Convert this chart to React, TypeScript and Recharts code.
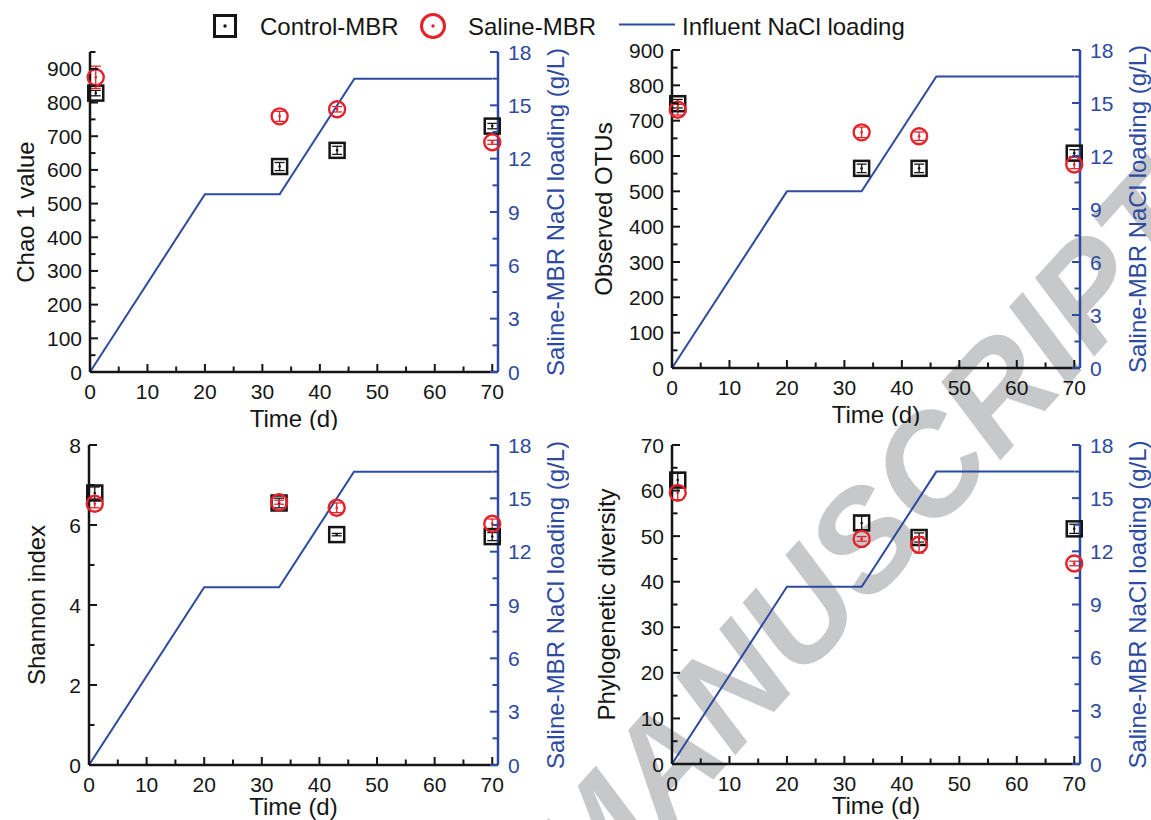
import React from "react";
import { ComposedChart, Line, Scatter, XAxis, YAxis, ErrorBar } from "recharts";

// sampling days for the sequencing results
const days = [1, 33, 43, 70];

// influent NaCl loading of the saline MBR (g/L)
const naclDays = [0, 20, 33, 46, 70];
const naclLoading = [0, 10, 10, 16.5, 16.5];

const chaoControl = [828, 610, 658, 730];
const chaoControlErr = [8, 12, 12, 8];
const chaoSaline = [875, 759, 780, 682];
const chaoSalineErr = [33, 15, 8, 6];

const otuControl = [748, 565, 565, 608];
const otuControlErr = [12, 12, 12, 10];
const otuSaline = [731, 667, 656, 576];
const otuSalineErr = [15, 15, 12, 12];

const shannonControl = [6.8, 6.55, 5.76, 5.71];
const shannonControlErr = [0.15, 0.12, 0.03, 0.1];
const shannonSaline = [6.53, 6.57, 6.43, 6.03];
const shannonSalineErr = [0.1, 0.05, 0.12, 0.12];

const pdControl = [62.3, 52.9, 49.7, 51.6];
const pdControlErr = [1.5, 1.5, 1, 1];
const pdSaline = [59.5, 49.4, 48.1, 44.0];
const pdSalineErr = [1.5, 0.5, 1.8, 0.5];

const xMajor = [0, 10, 20, 30, 40, 50, 60, 70];
const xMinor = [5, 15, 25, 35, 45, 55, 65];
const rightMajor = [0, 3, 6, 9, 12, 15, 18];
const rightMinor = [1.5, 4.5, 7.5, 10.5, 13.5, 16.5];

const chaoMajor = [0, 100, 200, 300, 400, 500, 600, 700, 800, 900];
const chaoMinor = [50, 150, 250, 350, 450, 550, 650, 750, 850, 950];
const otuMajor = [0, 100, 200, 300, 400, 500, 600, 700, 800, 900];
const otuMinor = [50, 150, 250, 350, 450, 550, 650, 750, 850];
const shannonMajor = [0, 2, 4, 6, 8];
const shannonMinor = [1, 3, 5, 7];
const pdMajor = [0, 10, 20, 30, 40, 50, 60, 70];
const pdMinor = [5, 15, 25, 35, 45, 55, 65];

const legendNames = ["Control-MBR", "Saline-MBR", "Influent NaCl loading"];
const rightTitle = "Saline-MBR NaCl loading (g/L)";

const FONT = "'Liberation Sans', Arial, Helvetica, sans-serif";
const BLACK = "#151515";
const RED = "#e5222a";
const BLUE = "#2d4aa0";
const FS = 21;
const TITLE_FS = 24;

const LEFT_W = 90;
const RIGHT_W = 71;
const TOP_M = 52;
const BOTTOM_H = 58;

const sorted = (a: number[], b: number[]) => [...a, ...b].sort((p, q) => p - q);

function makeTick(side: "bottom" | "top" | "left" | "right", majors: number[], color: string, labels: boolean) {
  return (props: any) => {
    const { x, y, payload } = props;
    const v = payload.value;
    const major = majors.includes(v);
    const len = major ? 8 : 5.5;
    let line;
    let text = null;
    if (side === "bottom") {
      line = <line x1={x} y1={y} x2={x} y2={y - len} stroke={color} strokeWidth={2} />;
      if (labels && major)
        text = (
          <text x={x} y={y + 27} textAnchor="middle" fontSize={FS} fontFamily={FONT} fill={color}>
            {v}
          </text>
        );
    } else if (side === "top") {
      line = <line x1={x} y1={y} x2={x} y2={y + len} stroke={color} strokeWidth={2} />;
    } else if (side === "left") {
      line = <line x1={x} y1={y} x2={x + len} y2={y} stroke={color} strokeWidth={2} />;
      if (labels && major)
        text = (
          <text x={x - 8} y={y + 7.5} textAnchor="end" fontSize={FS} fontFamily={FONT} fill={color}>
            {v}
          </text>
        );
    } else {
      line = <line x1={x} y1={y} x2={x - len} y2={y} stroke={color} strokeWidth={2} />;
      if (labels && major)
        text = (
          <text x={x + 10} y={y + 7.5} textAnchor="start" fontSize={FS} fontFamily={FONT} fill={color}>
            {v}
          </text>
        );
    }
    return (
      <g>
        {line}
        {text}
      </g>
    );
  };
}

const SquareMarker = (props: any) => {
  const { cx, cy } = props;
  if (cx == null || cy == null) return null;
  return (
    <g>
      <rect x={cx - 7.5} y={cy - 7.5} width={15} height={15} fill="none" stroke={BLACK} strokeWidth={2.5} />
      <circle cx={cx} cy={cy} r={1.3} fill={BLACK} />
    </g>
  );
};

const CircleMarker = (props: any) => {
  const { cx, cy } = props;
  if (cx == null || cy == null) return null;
  return (
    <g>
      <circle cx={cx} cy={cy} r={8} fill="none" stroke={RED} strokeWidth={2.4} />
      <circle cx={cx} cy={cy} r={1.3} fill={RED} />
    </g>
  );
};

interface PanelProps {
  plotX: number;
  plotY: number;
  plotW: number;
  plotH: number;
  yLabel: string;
  yLabelOffset: number;
  timeOffset: number;
  yDomain: [number, number];
  yMajor: number[];
  yMinor: number[];
  control: number[];
  controlErr: number[];
  saline: number[];
  salineErr: number[];
}

function Panel(p: PanelProps) {
  const width = LEFT_W + p.plotW + RIGHT_W;
  const height = TOP_M + p.plotH + BOTTOM_H;
  const naclData = naclDays.map((d, i) => ({ day: d, nacl: naclLoading[i] }));
  const controlData = days.map((d, i) => ({ day: d, value: p.control[i], err: p.controlErr[i] }));
  const salineData = days.map((d, i) => ({ day: d, value: p.saline[i], err: p.salineErr[i] }));
  const xTicks = sorted(xMajor, xMinor);

  return (
    <div style={{ position: "absolute", left: p.plotX - LEFT_W, top: p.plotY - TOP_M }}>
      <ComposedChart width={width} height={height} margin={{ top: TOP_M, right: 0, bottom: 0, left: 0 }}>
        <XAxis
          xAxisId="b"
          type="number"
          dataKey="day"
          domain={[0, 71]}
          ticks={xTicks}
          interval={0}
          height={BOTTOM_H}
          tickSize={0}
          tickMargin={0}
          tickLine={false}
          axisLine={{ stroke: BLACK, strokeWidth: 2.5 }}
          tick={makeTick("bottom", xMajor, BLACK, true)}
          label={{
            value: "Time (d)",
            position: "insideBottom",
            offset: p.timeOffset,
            fontSize: TITLE_FS,
            fontFamily: FONT,
            fill: BLACK,
          }}
        />
        <XAxis
          xAxisId="t"
          orientation="top"
          type="number"
          dataKey="day"
          domain={[0, 71]}
          ticks={xTicks}
          interval={0}
          height={0}
          tickSize={0}
          tickMargin={0}
          tickLine={false}
          axisLine={{ stroke: BLACK, strokeWidth: 2.5 }}
          tick={makeTick("top", xMajor, BLACK, false)}
        />
        <YAxis
          yAxisId="l"
          type="number"
          domain={p.yDomain}
          ticks={sorted(p.yMajor, p.yMinor)}
          interval={0}
          width={LEFT_W}
          tickSize={0}
          tickMargin={0}
          tickLine={false}
          axisLine={{ stroke: BLACK, strokeWidth: 2.5 }}
          tick={makeTick("left", p.yMajor, BLACK, true)}
          label={{
            value: p.yLabel,
            angle: -90,
            position: "insideLeft",
            offset: p.yLabelOffset,
            fontSize: TITLE_FS,
            fontFamily: FONT,
            fill: BLACK,
            style: { textAnchor: "middle" },
          }}
        />
        <YAxis
          yAxisId="r"
          orientation="right"
          type="number"
          domain={[0, 18]}
          ticks={sorted(rightMajor, rightMinor)}
          interval={0}
          width={RIGHT_W}
          tickSize={0}
          tickMargin={0}
          tickLine={false}
          axisLine={{ stroke: BLUE, strokeWidth: 2.5 }}
          tick={makeTick("right", rightMajor, BLUE, true)}
          label={{
            value: rightTitle,
            angle: -90,
            position: "insideLeft",
            offset: 57,
            fontSize: TITLE_FS,
            fontFamily: FONT,
            fill: BLUE,
            style: { textAnchor: "middle" },
          }}
        />
        <Line
          xAxisId="b"
          yAxisId="r"
          data={naclData}
          dataKey="nacl"
          type="linear"
          stroke={BLUE}
          strokeWidth={2}
          dot={false}
          activeDot={false}
          isAnimationActive={false}
        />
        <Scatter xAxisId="b" yAxisId="l" data={controlData} dataKey="value" shape={SquareMarker} isAnimationActive={false}>
          <ErrorBar dataKey="err" direction="y" width={5} stroke={BLACK} strokeWidth={1.3} isAnimationActive={false} />
        </Scatter>
        <Scatter xAxisId="b" yAxisId="l" data={salineData} dataKey="value" shape={CircleMarker} isAnimationActive={false}>
          <ErrorBar dataKey="err" direction="y" width={5} stroke={RED} strokeWidth={1.3} isAnimationActive={false} />
        </Scatter>
      </ComposedChart>
    </div>
  );
}

function TopLegend() {
  return (
    <svg width={1151} height={50} style={{ position: "absolute", left: 0, top: 0 }}>
      <rect x={214.5} y={15.5} width={21} height={21} fill="none" stroke={BLACK} strokeWidth={3} />
      <circle cx={225} cy={26} r={1.7} fill={BLACK} />
      <text x={260} y={34.5} fontSize={TITLE_FS} fontFamily={FONT} fill={BLACK}>
        {legendNames[0]}
      </text>
      <circle cx={433} cy={26} r={11.5} fill="none" stroke={RED} strokeWidth={3} />
      <circle cx={433} cy={26} r={1.7} fill={RED} />
      <text x={468} y={34.5} fontSize={TITLE_FS} fontFamily={FONT} fill={BLACK}>
        {legendNames[1]}
      </text>
      <line x1={619} y1={24.5} x2={675} y2={24.5} stroke={BLUE} strokeWidth={2} />
      <text x={682} y={34.5} fontSize={TITLE_FS} fontFamily={FONT} fill={BLACK}>
        {legendNames[2]}
      </text>
    </svg>
  );
}

function Watermark() {
  return (
    <svg width={1151} height={820} style={{ position: "absolute", left: 0, top: 0 }}>
      <text
        x={900}
        y={572}
        transform="rotate(-48 900 572)"
        textAnchor="middle"
        fontSize={140}
        fontWeight="bold"
        fontStyle="italic"
        fontFamily={FONT}
        fill="#c7c8ca"
      >
        MANUSCRIPT
      </text>
    </svg>
  );
}

export default function App() {
  return (
    <div
      style={{
        position: "absolute",
        left: 0,
        top: 0,
        width: 1151,
        height: 820,
        overflow: "hidden",
        background: "#fff",
        fontFamily: FONT,
      }}
    >
      <Watermark />
      <Panel
        plotX={90}
        plotY={52}
        plotW={408}
        plotH={320}
        yLabel="Chao 1 value"
        yLabelOffset={25}
        timeOffset={BOTTOM_H - 55}
        yDomain={[0, 950]}
        yMajor={chaoMajor}
        yMinor={chaoMinor}
        control={chaoControl}
        controlErr={chaoControlErr}
        saline={chaoSaline}
        salineErr={chaoSalineErr}
      />
      <Panel
        plotX={672}
        plotY={50}
        plotW={408}
        plotH={318}
        yLabel="Observed OTUs"
        yLabelOffset={21}
        timeOffset={BOTTOM_H - 55}
        yDomain={[0, 900]}
        yMajor={otuMajor}
        yMinor={otuMinor}
        control={otuControl}
        controlErr={otuControlErr}
        saline={otuSaline}
        salineErr={otuSalineErr}
      />
      <Panel
        plotX={89}
        plotY={445}
        plotW={409}
        plotH={320}
        yLabel="Shannon index"
        yLabelOffset={37}
        timeOffset={BOTTOM_H - 50}
        yDomain={[0, 8]}
        yMajor={shannonMajor}
        yMinor={shannonMinor}
        control={shannonControl}
        controlErr={shannonControlErr}
        saline={shannonSaline}
        salineErr={shannonSalineErr}
      />
      <Panel
        plotX={672}
        plotY={445}
        plotW={408}
        plotH={319}
        yLabel="Phylogenetic diversity"
        yLabelOffset={24}
        timeOffset={BOTTOM_H - 50}
        yDomain={[0, 70]}
        yMajor={pdMajor}
        yMinor={pdMinor}
        control={pdControl}
        controlErr={pdControlErr}
        saline={pdSaline}
        salineErr={pdSalineErr}
      />
      <TopLegend />
    </div>
  );
}
